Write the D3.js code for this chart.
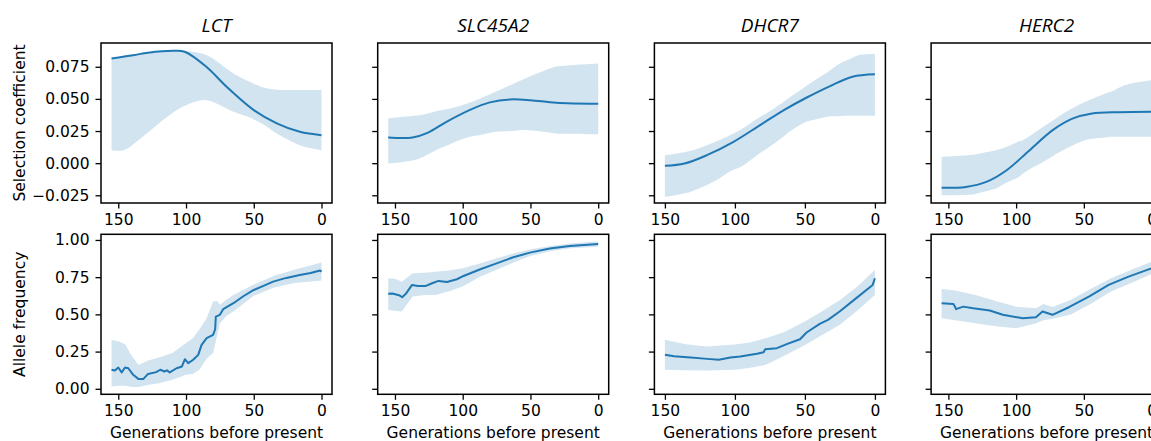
<!DOCTYPE html>
<html lang="en">
<head>
<meta charset="UTF-8">
<script src="https://d3js.org/d3.v7.min.js"></script>
<style>
  body { margin: 0; background: #fff; }
  svg { display: block; }
  .tick text { font-family: "DejaVu Sans", sans-serif; }
</style>
</head>
<body>
<div id="plot"></div>
<script>
// genes shown in the columns
const genes = ["LCT", "SLC45A2", "DHCR7", "HERC2"];

// selection coefficient: mean as [generation, value], band as [generation, low, high]
const lctSelMean = [[155,0.0815],[139,0.084],[128,0.086],[109,0.0875],[101,0.0867],[85,0.075],[70,0.0594],[50,0.0413],[33,0.031],[16,0.0244],[0,0.0218]];
const lctSelBand = [[155,0.0101,0.0815],[146,0.0101,0.083],[132,0.0205,0.0855],[114,0.036,0.0875],[100,0.045,0.0872],[85,0.049,0.0841],[65,0.040,0.0698],[53,0.0355,0.0633],[41,0.029,0.0582],[33,0.023,0.0572],[16,0.014,0.0569],[0,0.0101,0.0569]];

const slcSelMean = [[155,0.020],[137,0.020],[126,0.0236],[112,0.0322],[95,0.0413],[80,0.0473],[65,0.0496],[50,0.049],[31,0.047],[0,0.0462]];
const slcSelBand = [[155,-0.0003,0.0348],[136,0.0023,0.0368],[131,0.004,0.0374],[117,0.0114,0.041],[109,0.015,0.0426],[95,0.0205,0.047],[87,0.022,0.0504],[75,0.0244,0.056],[65,0.025,0.0607],[58,0.0257,0.064],[45,0.025,0.0698],[31,0.0231,0.0752],[26,0.0228,0.0758],[0,0.0224,0.0776]];

const dhcSelMean = [[150,-0.0021],[136,-0.0003],[120,0.0062],[101,0.0166],[82,0.0296],[65,0.0413],[49,0.0509],[32,0.060],[16,0.0672],[0,0.0691]];
const dhcSelBand = [[150,-0.0262,0.0062],[132,-0.0224,0.0095],[120,-0.017,0.014],[113,-0.0132,0.017],[101,-0.005,0.0231],[96,-0.0029,0.026],[82,0.008,0.036],[77,0.0114,0.039],[65,0.021,0.0477],[61,0.0244,0.051],[53,0.030,0.0569],[49,0.0322,0.060],[39,0.035,0.0672],[35,0.036,0.070],[25,0.0366,0.0776],[20,0.0368,0.080],[11,0.0368,0.0841],[0,0.0368,0.0849]];

const hercSelMean = [[155,-0.0192],[137,-0.0185],[122,-0.0146],[107,-0.0055],[90,0.0101],[73,0.0257],[58,0.0348],[44,0.0387],[24,0.0397],[0,0.040]];
const hercSelBand = [[155,-0.0249,0.0049],[132,-0.0244,0.0065],[127,-0.023,0.0076],[115,-0.0197,0.010],[107,-0.015,0.0127],[98,-0.0107,0.017],[95,-0.008,0.0179],[78,0.0023,0.0296],[63,0.0114,0.040],[49,0.0179,0.0477],[34,0.020,0.0543],[29,0.0205,0.056],[20,0.0205,0.0607],[0,0.0205,0.0646]];

// allele frequency: mean as [generation, value], band as [generation, low, high]
const lctFreqMean = [[155,0.1275],[152.5,0.123],[150,0.143],[147.5,0.11],[145,0.143],[142.6,0.138],[139,0.094],[135,0.065],[131.6,0.065],[128,0.10],[122,0.112],[119,0.128],[116,0.116],[114,0.124],[112,0.11],[107,0.138],[103,0.15],[100.8,0.199],[98.4,0.172],[94.7,0.195],[91,0.228],[88.5,0.295],[84.8,0.34],[80,0.362],[78.5,0.40],[78,0.485],[75,0.497],[72.6,0.535],[65,0.575],[58,0.62],[50,0.664],[42,0.695],[35.7,0.72],[26,0.745],[16,0.765],[8,0.778],[1,0.795],[0,0.787]];
const lctFreqBand = [[155,0.015,0.33],[150,0.02,0.32],[145,0.02,0.30],[140,0.012,0.22],[135,0.012,0.16],[128,0.025,0.19],[120,0.038,0.21],[110,0.06,0.24],[100,0.094,0.307],[95,0.10,0.34],[90,0.13,0.40],[85,0.20,0.47],[80,0.24,0.586],[77,0.36,0.59],[75,0.44,0.565],[70,0.49,0.60],[65,0.52,0.63],[50,0.625,0.70],[35,0.68,0.76],[20,0.71,0.80],[0,0.727,0.848]];

const slcFreqMean = [[155,0.638],[152,0.64],[147,0.629],[144.7,0.615],[142,0.638],[137.4,0.698],[133,0.69],[127.6,0.69],[122.6,0.709],[117.8,0.725],[111.6,0.718],[104.3,0.736],[99.4,0.758],[87,0.803],[75,0.843],[62.6,0.884],[50.4,0.915],[35.7,0.942],[21,0.96],[0,0.973]];
const slcFreqBand = [[155,0.53,0.743],[150,0.525,0.74],[145,0.519,0.72],[137,0.62,0.776],[128,0.63,0.78],[120,0.631,0.787],[110,0.655,0.795],[100,0.687,0.81],[88,0.75,0.84],[75,0.799,0.877],[62,0.85,0.91],[50,0.893,0.938],[35,0.925,0.96],[20,0.945,0.978],[0,0.955,0.989]];

const dhcFreqMean = [[150,0.228],[143.4,0.219],[131.6,0.21],[119.7,0.201],[111.5,0.195],[103.2,0.21],[96.1,0.217],[84.3,0.235],[79.5,0.245],[78.4,0.266],[70,0.273],[63,0.30],[53.5,0.333],[48.8,0.378],[39.4,0.436],[33.5,0.463],[25.2,0.519],[13.3,0.609],[1.6,0.698],[0,0.743]];
const dhcFreqBand = [[150,0.128,0.329],[135,0.125,0.30],[120,0.123,0.284],[100,0.128,0.298],[90,0.14,0.31],[78,0.161,0.34],[65,0.22,0.38],[50,0.295,0.452],[38,0.36,0.52],[25,0.43,0.597],[12,0.53,0.69],[0,0.631,0.799]];

const hercFreqMean = [[155,0.575],[146.3,0.57],[145,0.55],[144.4,0.535],[139,0.552],[131.7,0.541],[119.5,0.526],[109.8,0.497],[95.1,0.474],[85.4,0.481],[80.5,0.519],[73.2,0.497],[61,0.548],[46.3,0.619],[31.7,0.698],[17,0.754],[0,0.81]];
const hercFreqBand = [[155,0.474,0.671],[145,0.46,0.66],[130,0.44,0.631],[115,0.42,0.59],[100,0.407,0.552],[85,0.44,0.541],[80,0.46,0.57],[73,0.47,0.55],[60,0.497,0.597],[45,0.57,0.67],[30,0.653,0.743],[15,0.71,0.80],[0,0.772,0.854]];

const selMeans = [lctSelMean, slcSelMean, dhcSelMean, hercSelMean];
const selBands = [lctSelBand, slcSelBand, dhcSelBand, hercSelBand];
const freqMeans = [lctFreqMean, slcFreqMean, dhcFreqMean, hercFreqMean];
const freqBands = [lctFreqBand, slcFreqBand, dhcFreqBand, hercFreqBand];

// axis settings
const xTicks = [150, 100, 50, 0];
const selTicks = [-0.025, 0, 0.025, 0.05, 0.075];
const freqTicks = [0, 0.25, 0.5, 0.75, 1];
const selDomain = [-0.031, 0.0935];
const freqDomain = [-0.037, 1.038];
const rowLabels = ["Selection coefficient", "Allele frequency"];

const W = 1151, H = 441;
const colLeft = 101, colStep = 276.7, pw = 231, ph = 160;
const rowTop = [43, 234.3];
const blue = "#1f77b4";
const fontSize = 15.5;

const svg = d3.select("#plot").append("svg")
    .attr("width", W).attr("height", H);

function panel(col, row, meanData, bandData) {
  const left = colLeft + col * colStep, top = rowTop[row];
  const g = svg.append("g").attr("transform", `translate(${left},${top})`);

  const gMax = d3.max(meanData, d => d[0]);
  const pad = gMax * 0.05;
  const x = d3.scaleLinear().domain([gMax + pad, -pad]).range([0, pw]);
  const y = d3.scaleLinear().domain(row === 0 ? selDomain : freqDomain).range([ph, 0]);

  const curve = row === 0 ? d3.curveCatmullRom : d3.curveLinear;

  g.append("path")
      .datum(bandData)
      .attr("fill", blue)
      .attr("fill-opacity", 0.2)
      .attr("d", d3.area().curve(curve)
        .x(d => x(d[0])).y0(d => y(d[1])).y1(d => y(d[2])));

  g.append("path")
      .datum(meanData)
      .attr("fill", "none")
      .attr("stroke", blue)
      .attr("stroke-width", 2)
      .attr("stroke-linejoin", "round")
      .attr("d", d3.line().curve(curve).x(d => x(d[0])).y(d => y(d[1])));

  const xAxis = g.append("g")
      .attr("transform", `translate(0,${ph})`)
      .call(d3.axisBottom(x).tickValues(xTicks).tickSize(5.5).tickPadding(5));
  const yAxis = g.append("g")
      .call(d3.axisLeft(y)
        .tickValues(row === 0 ? selTicks : freqTicks)
        .tickSize(5.5).tickPadding(6)
        .tickFormat(col === 0 ? d3.format(row === 0 ? ".3f" : ".2f") : ""));

  [xAxis, yAxis].forEach(a => {
    a.select(".domain").remove();
    a.selectAll(".tick line").attr("stroke", "#000").attr("stroke-width", 1.3);
    a.selectAll(".tick text").attr("fill", "#000").attr("font-size", fontSize);
  });

  g.append("rect")
      .attr("width", pw).attr("height", ph)
      .attr("fill", "none").attr("stroke", "#000").attr("stroke-width", 1.5);

  if (row === 0) {
    g.append("text")
        .attr("x", pw / 2).attr("y", -11)
        .attr("text-anchor", "middle")
        .attr("font-family", "'Open Sans', sans-serif")
        .attr("font-style", "italic")
        .attr("font-size", 19)
        .text(genes[col]);
  } else {
    g.append("text")
        .attr("x", pw / 2).attr("y", ph + 44)
        .attr("text-anchor", "middle")
        .attr("font-family", "'DejaVu Sans', sans-serif")
        .attr("font-size", fontSize)
        .text("Generations before present");
  }

  if (col === 0) {
    g.append("text")
        .attr("transform", `translate(${25 - left},${ph / 2}) rotate(-90)`)
        .attr("text-anchor", "middle")
        .attr("font-family", "'DejaVu Sans', sans-serif")
        .attr("font-size", fontSize)
        .text(rowLabels[row]);
  }
}

genes.forEach((gene, i) => {
  panel(i, 0, selMeans[i], selBands[i]);
  panel(i, 1, freqMeans[i], freqBands[i]);
});
</script>
</body>
</html>
